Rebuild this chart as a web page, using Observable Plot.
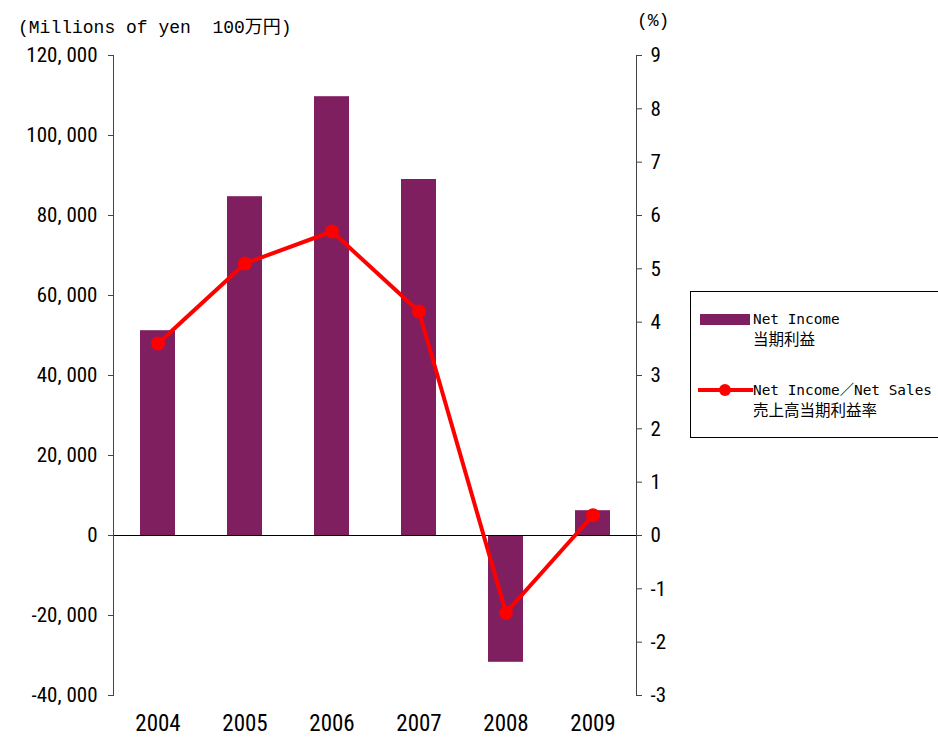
<!DOCTYPE html>
<html><head><meta charset="utf-8">
<script src="https://cdn.jsdelivr.net/npm/d3@7"></script>
<script src="https://cdn.jsdelivr.net/npm/@observablehq/plot@0.6"></script>
<style>
html,body{margin:0;padding:0;background:#fff;overflow:hidden;width:938px;height:737px}
#wrap{position:relative;width:938px;height:737px;overflow:hidden}
.t{position:absolute;white-space:pre;color:#000;font-family:"Liberation Mono","Noto Sans CJK JP",monospace;font-size:18px;line-height:1}
#legend{position:absolute;left:690px;top:291px;width:270px;height:147px;border:1px solid #000;box-sizing:border-box;background:#fff}
.lt{position:absolute;left:62px;font-family:"DejaVu Sans Mono","Noto Sans CJK JP",monospace;font-size:14.4px;line-height:19px;white-space:pre;color:#000}
.lt .j{font-family:"Noto Sans CJK JP",sans-serif;font-size:15.5px}
</style></head><body><div id="wrap"></div>
<script>
const years = ["2004", "2005", "2006", "2007", "2008", "2009"];
const netIncome = [51200, 84700, 109700, 89000, -31700, 6200];
const incomeRatio = [3.6, 5.1, 5.7, 4.2, -1.45, 0.38];
const leftTicks = [-40000, -20000, 0, 20000, 40000, 60000, 80000, 100000, 120000];
const rightTicks = [-3, -2, -1, 0, 1, 2, 3, 4, 5, 6, 7, 8, 9];
const yTitle = "(Millions of yen  100万円)";
const y2Title = "(%)";
const legendLabels = [["Net Income", "当期利益"], ["Net Income／Net Sales", "売上高当期利益率"]];

const k = 40000 / 3; // right axis (%) to left axis units
const data = years.map((y, i) => ({year: y, ni: netIncome[i], pct: incomeRatio[i]}));
const fmtL = d => (d < 0 ? "-" : "") + d3.format(",")(Math.abs(d)).replace(/,/g, ", ");
const fmtR = d => { const v = Math.round(d / k); return (v < 0 ? "-" : "") + Math.abs(v); };
const tickFont = '"Liberation Sans Narrow","Roboto Condensed","Liberation Sans",sans-serif';

const chart = Plot.plot({
  width: 938, height: 737,
  marginTop: 55, marginBottom: 42, marginLeft: 113, marginRight: 302,
  style: {fontFamily: tickFont, color: "#000", background: "transparent", overflow: "visible"},
  x: {domain: years, paddingInner: 0.6, paddingOuter: 0.3, axis: null},
  y: {domain: [-40000, 120000], axis: null},
  marks: [
    Plot.barY(data, {x: "year", y: "ni", fill: "#7f1f5f"}),
    Plot.ruleY([0], {stroke: "#000", strokeWidth: 1}),
    Plot.frame({anchor: "left", stroke: "#444"}),
    Plot.frame({anchor: "right", stroke: "#444"}),
    Plot.line(data, {x: "year", y: d => d.pct * k, stroke: "#ff0000", strokeWidth: 4}),
    Plot.dot(data, {x: "year", y: d => d.pct * k, r: 7, fill: "#ff0000", stroke: "none"}),
    Plot.axisY({anchor: "left", label: null, ticks: leftTicks, tickSize: 5, tickPadding: 11, tickFormat: fmtL, fontSize: 21, stroke: "#444"}),
    Plot.axisY({anchor: "right", label: null, ticks: rightTicks.map(v => v * k), tickSize: 5, tickPadding: 9, tickFormat: fmtR, fontSize: 21, stroke: "#444"}),
    Plot.axisX({anchor: "bottom", label: null, tickSize: 0, tickPadding: 19, fontSize: 23})
  ]
});
const wrap = document.getElementById("wrap");
wrap.appendChild(chart);

const t1 = document.createElement("div");
t1.className = "t"; t1.style.left = "18px"; t1.style.top = "19px"; t1.textContent = yTitle;
wrap.appendChild(t1);
const t2 = document.createElement("div");
t2.className = "t"; t2.style.left = "637px"; t2.style.top = "12px"; t2.textContent = y2Title;
wrap.appendChild(t2);

const lg = document.createElement("div");
lg.id = "legend";
lg.innerHTML = `
<svg width="70" height="145" style="position:absolute;left:0;top:0">
  <rect x="9" y="22" width="50" height="11" fill="#7f1f5f"></rect>
  <line x1="7" y1="98" x2="62" y2="98" stroke="#ff0000" stroke-width="4"></line>
  <circle cx="34" cy="98" r="6" fill="#ff0000"></circle>
</svg>
<div class="lt" style="top:18px">${legendLabels[0][0]}<br><span class="j">${legendLabels[0][1]}</span></div>
<div class="lt" style="top:89px">${legendLabels[1][0]}<br><span class="j">${legendLabels[1][1]}</span></div>`;
wrap.appendChild(lg);
</script>
</body></html>
